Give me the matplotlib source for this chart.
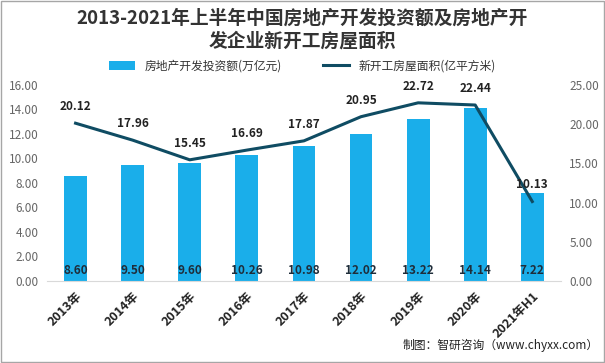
import matplotlib
matplotlib.use("Agg")
import matplotlib.pyplot as plt
import numpy as np

plt.rcParams['font.family'] = ['Noto Sans CJK SC', 'DejaVu Sans']

# data
years = ["2013年", "2014年", "2015年", "2016年", "2017年", "2018年", "2019年", "2020年", "2021年H1"]
invest = [8.60, 9.50, 9.60, 10.26, 10.98, 12.02, 13.22, 14.14, 7.22]
new_area = [20.12, 17.96, 15.45, 16.69, 17.87, 20.95, 22.72, 22.44, 10.13]

BAR_COLOR = "#1AAEEA"
LINE_COLOR = "#0F4C63"
TICK_COLOR = "#666666"

fig = plt.figure(figsize=(6.05, 3.63), dpi=100)
ax = fig.add_axes([0.0777, 0.226, 0.8493, 0.540])
ax2 = ax.twinx()

x = np.arange(len(years))
bars = ax.bar(x, invest, width=0.4, color=BAR_COLOR, label="房地产开发投资额(万亿元)", zorder=2)
ln, = ax2.plot(x, new_area, color=LINE_COLOR, linewidth=2.2, label="新开工房屋面积(亿平方米)", zorder=3)

ax.set_xlim(-0.5, len(years) - 0.5)
ax.set_ylim(0, 16)
ax2.set_ylim(0, 25)
ax.set_yticks(np.arange(0, 16.1, 2))
ax2.set_yticks(np.arange(0, 25.1, 5))
ax.set_yticklabels([f"{v:.2f}" for v in np.arange(0, 16.1, 2)])
ax2.set_yticklabels([f"{v:.2f}" for v in np.arange(0, 25.1, 5)])

for a in (ax, ax2):
    for s in ("top", "left", "right"):
        a.spines[s].set_visible(False)
    a.spines["bottom"].set_color("#D9D9D9")
    a.tick_params(axis="y", length=0, labelsize=8.5, colors=TICK_COLOR, pad=6)
ax2.spines["bottom"].set_visible(False)

ax.set_xticks(x)
ax.set_xticklabels(years, rotation=45, ha="right", rotation_mode="anchor",
                   fontsize=9, fontweight="bold", color="#222222")
ax.tick_params(axis="x", length=0, pad=6)

# bar value labels near the bottom of each bar
for xi, v in zip(x, invest):
    ax.text(xi, 0.35, f"{v:.2f}", ha="center", va="bottom", fontsize=8.5,
            fontweight="bold", color="#1F2D3A", zorder=4)

# line value labels above points
for xi, v in zip(x, new_area):
    ax2.text(xi, v + 1.3, f"{v:.2f}", ha="center", va="bottom", fontsize=8.5,
             fontweight="bold", color="#222222", zorder=4)

fig.text(0.5, 0.975, "2013-2021年上半年中国房地产开发投资额及房地产开\n发企业新开工房屋面积",
         ha="center", va="top", fontsize=13.5, fontweight="bold", color="#333333",
         linespacing=1.25)

fig.legend(handles=[bars, ln], loc="center", bbox_to_anchor=(0.5, 0.818), ncol=2,
           frameon=False, fontsize=8.5, handlelength=2.2, columnspacing=3.5,
           labelcolor="#333333")

fig.text(0.99, 0.03, "制图：智研咨询（www.chyxx.com）", ha="right", va="bottom",
         fontsize=8.5, color="#222222")

# thin frame around the figure
fig.patches.append(plt.Rectangle((0.002, 0.003), 0.996, 0.994, transform=fig.transFigure,
                                 fill=False, edgecolor="#A6A6A6", linewidth=1))

fig.savefig("out.png", dpi=100)
